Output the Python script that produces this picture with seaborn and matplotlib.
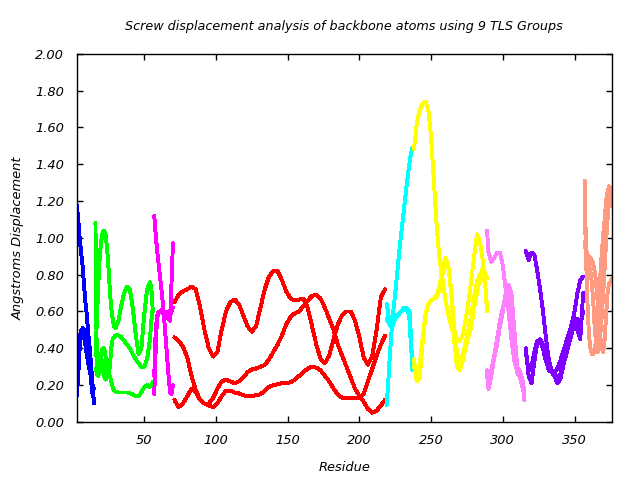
import matplotlib
matplotlib.use("Agg")
import matplotlib.pyplot as plt
import seaborn as sns
import pandas as pd
from matplotlib.ticker import FormatStrFormatter, MultipleLocator

# ---------------- data ----------------
group_names = ["g1", "g2", "g3", "g4", "g5", "g6", "g7", "g8", "g9"]
group_colors = ["#0000ff", "#00ff00", "#ff00ff", "#ff0000", "#00ffff",
                "#ffff00", "#ff80ff", "#8000ff", "#ff9980"]

res_g1 = [3, 4, 5, 6, 7, 8, 9, 10, 11, 12, 13, 14, 15]
g1_a = [1.18, 1.10, 1.00, 0.92, 0.85, 0.75, 0.65, 0.58, 0.48, 0.40, 0.30, 0.20, 0.10]
g1_b = [0.14, 0.25, 0.40, 0.48, 0.51, 0.50, 0.45, 0.40, 0.36, 0.30, 0.22, 0.15, 0.12]
g1_c = [0.35, 0.40, 0.46, 0.50, 0.50, 0.47, 0.42, 0.36, 0.32, 0.28, 0.24, 0.20, 0.18]

res_g2 = [16, 17, 18, 19, 20, 21, 22, 23, 24, 25, 26, 27, 28, 29, 30, 32, 34, 36,
          38, 40, 42, 44, 46, 48, 50, 52, 54, 55, 56]
g2_a = [1.08, 0.26, 0.25, 0.30, 0.36, 0.40, 0.40, 0.36, 0.28, 0.25, 0.30, 0.40,
        0.45, 0.46, 0.47, 0.47, 0.46, 0.44, 0.42, 0.40, 0.37, 0.34, 0.32, 0.30,
        0.30, 0.34, 0.45, 0.55, 0.62]
g2_b = [0.36, 0.55, 0.75, 0.90, 0.98, 1.03, 1.04, 1.02, 0.95, 0.85, 0.72, 0.62,
        0.56, 0.52, 0.51, 0.55, 0.63, 0.70, 0.735, 0.72, 0.62, 0.48, 0.37, 0.40,
        0.58, 0.72, 0.76, 0.72, 0.60]
g2_c = [0.28, 0.30, 0.35, 0.37, 0.35, 0.30, 0.25, 0.23, 0.24, 0.26, 0.25, 0.22,
        0.19, 0.17, 0.165, 0.16, 0.16, 0.16, 0.16, 0.155, 0.15, 0.14, 0.14, 0.16,
        0.19, 0.20, 0.19, 0.20, 0.22]

res_g3 = [57, 58, 59, 60, 61, 62, 63, 64, 65, 66, 67, 68, 69, 70]
g3_a = [1.12, 1.02, 0.93, 0.86, 0.79, 0.72, 0.64, 0.55, 0.45, 0.35, 0.25, 0.16, 0.15, 0.20]
g3_b = [0.15, 0.40, 0.58, 0.60, 0.60, 0.61, 0.60, 0.60, 0.60, 0.59, 0.56, 0.55, 0.75, 0.97]
g3_c = [0.25, 0.50, 0.57, 0.59, 0.60, 0.60, 0.59, 0.58, 0.58, 0.57, 0.56, 0.58, 0.60, 0.62]

res_g4 = [71, 74, 77, 80, 83, 86, 89, 92, 95, 98, 101, 104, 107, 110, 113, 116,
          119, 122, 125, 128, 131, 134, 137, 140, 143, 146, 149, 152, 155, 158,
          161, 164, 167, 170, 173, 176, 179, 182, 185, 188, 191, 194, 197, 200,
          203, 206, 209, 212, 215, 218]
g4_a = [0.65, 0.69, 0.71, 0.72, 0.735, 0.72, 0.62, 0.50, 0.40, 0.355, 0.38, 0.50,
        0.60, 0.65, 0.665, 0.64, 0.58, 0.52, 0.49, 0.52, 0.62, 0.72, 0.79, 0.82,
        0.82, 0.77, 0.71, 0.67, 0.66, 0.665, 0.67, 0.62, 0.52, 0.42, 0.34, 0.32,
        0.36, 0.45, 0.53, 0.58, 0.60, 0.60, 0.55, 0.46, 0.35, 0.31, 0.36, 0.50,
        0.68, 0.72]
g4_b = [0.46, 0.44, 0.41, 0.35, 0.25, 0.17, 0.12, 0.10, 0.10, 0.13, 0.18, 0.22,
        0.23, 0.22, 0.21, 0.22, 0.24, 0.27, 0.285, 0.29, 0.30, 0.31, 0.34, 0.38,
        0.42, 0.47, 0.53, 0.57, 0.59, 0.60, 0.63, 0.66, 0.685, 0.69, 0.67, 0.62,
        0.56, 0.50, 0.42, 0.36, 0.30, 0.24, 0.18, 0.14, 0.11, 0.07, 0.05, 0.06,
        0.09, 0.12]
g4_c = [0.12, 0.08, 0.10, 0.14, 0.18, 0.16, 0.12, 0.10, 0.09, 0.08, 0.10, 0.14,
        0.17, 0.17, 0.16, 0.155, 0.145, 0.14, 0.14, 0.145, 0.15, 0.17, 0.19, 0.20,
        0.205, 0.21, 0.21, 0.215, 0.23, 0.25, 0.27, 0.29, 0.30, 0.295, 0.28, 0.25,
        0.22, 0.18, 0.15, 0.13, 0.13, 0.13, 0.13, 0.13, 0.15, 0.22, 0.29, 0.36,
        0.42, 0.47]

res_g5 = [219, 220, 221, 222, 223, 224, 225, 226, 227, 228, 229, 230, 231, 232,
          233, 234, 235, 236, 237]
g5_a = [0.09, 0.20, 0.33, 0.45, 0.55, 0.63, 0.70, 0.78, 0.86, 0.94, 1.01, 1.08,
        1.15, 1.22, 1.29, 1.35, 1.41, 1.46, 1.49]
g5_b = [0.64, 0.60, 0.53, 0.52, 0.54, 0.55, 0.56, 0.57, 0.58, 0.59, 0.60, 0.60,
        0.61, 0.61, 0.62, 0.61, 0.60, 0.45, 0.28]
g5_c = [0.55, 0.58, 0.56, 0.53, 0.52, 0.54, 0.56, 0.58, 0.58, 0.59, 0.60, 0.61,
        0.62, 0.62, 0.62, 0.60, 0.55, 0.40, 0.33]

res_g6 = [238, 240, 242, 244, 246, 248, 250, 252, 254, 256, 258, 260, 262, 264,
          266, 268, 270, 272, 274, 276, 278, 280, 282, 284, 286, 288, 289]
g6_a = [1.48, 1.62, 1.69, 1.73, 1.74, 1.70, 1.55, 1.30, 1.05, 0.88, 0.77, 0.66,
        0.58, 0.52, 0.47, 0.45, 0.44, 0.47, 0.55, 0.65, 0.77, 0.90, 1.02, 0.98,
        0.88, 0.72, 0.60]
g6_b = [0.34, 0.22, 0.24, 0.42, 0.57, 0.64, 0.66, 0.67, 0.69, 0.74, 0.84, 0.89,
        0.85, 0.70, 0.45, 0.30, 0.28, 0.33, 0.40, 0.46, 0.52, 0.62, 0.70, 0.78,
        0.84, 0.80, 0.78]
g6_c = [0.30, 0.25, 0.30, 0.45, 0.58, 0.64, 0.66, 0.67, 0.68, 0.72, 0.80, 0.86,
        0.84, 0.72, 0.52, 0.38, 0.33, 0.36, 0.43, 0.50, 0.58, 0.68, 0.76, 0.80,
        0.82, 0.72, 0.62]

res_g7 = [289, 290, 292, 294, 296, 298, 300, 302, 304, 306, 308, 310, 312, 314, 315]
g7_a = [1.04, 0.92, 0.87, 0.89, 0.92, 0.92, 0.85, 0.72, 0.60, 0.45, 0.33, 0.28, 0.25, 0.20, 0.12]
g7_b = [0.26, 0.18, 0.25, 0.35, 0.42, 0.52, 0.60, 0.70, 0.745, 0.70, 0.50, 0.30, 0.27, 0.22, 0.16]
g7_c = [0.28, 0.22, 0.28, 0.36, 0.45, 0.55, 0.62, 0.68, 0.70, 0.62, 0.42, 0.27, 0.24, 0.18, 0.14]

res_g8 = [316, 318, 320, 322, 324, 326, 328, 330, 332, 334, 336, 338, 340, 342,
          344, 346, 348, 350, 352, 354, 356]
g8_a = [0.93, 0.88, 0.92, 0.91, 0.82, 0.72, 0.60, 0.46, 0.34, 0.28, 0.27, 0.29,
        0.33, 0.38, 0.43, 0.48, 0.53, 0.60, 0.70, 0.77, 0.79]
g8_b = [0.40, 0.25, 0.21, 0.33, 0.43, 0.45, 0.42, 0.34, 0.28, 0.27, 0.25, 0.21,
        0.23, 0.30, 0.38, 0.44, 0.53, 0.56, 0.50, 0.45, 0.70]
g8_c = [0.38, 0.28, 0.30, 0.38, 0.44, 0.44, 0.40, 0.33, 0.29, 0.28, 0.26, 0.24,
        0.26, 0.31, 0.36, 0.42, 0.48, 0.54, 0.56, 0.52, 0.60]

res_g9 = [357, 358, 359, 360, 361, 362, 363, 364, 365, 366, 367, 368, 369, 370,
          371, 372, 373, 374, 375, 376]
g9_a = [1.31, 0.93, 0.91, 0.90, 0.89, 0.88, 0.86, 0.82, 0.76, 0.66, 0.56, 0.46,
        0.40, 0.38, 0.45, 0.58, 0.70, 0.75, 0.76, 0.78]
g9_b = [1.20, 0.90, 0.65, 0.48, 0.40, 0.37, 0.37, 0.39, 0.44, 0.55, 0.68, 0.80,
        0.92, 1.02, 1.10, 1.20, 1.25, 1.28, 1.27, 1.17]
g9_c = [0.98, 0.92, 0.88, 0.85, 0.82, 0.76, 0.66, 0.52, 0.42, 0.38, 0.40, 0.48,
        0.58, 0.70, 0.84, 0.98, 1.10, 1.20, 1.26, 1.22]

x_ticks = [50, 100, 150, 200, 250, 300, 350]
title = "Screw displacement analysis of backbone atoms using 9 TLS Groups"
xlabel = "Residue"
ylabel = "Angstroms Displacement"

# ---------------- build table ----------------
groups = [
    (res_g1, [g1_a, g1_b, g1_c]),
    (res_g2, [g2_a, g2_b, g2_c]),
    (res_g3, [g3_a, g3_b, g3_c]),
    (res_g4, [g4_a, g4_b, g4_c]),
    (res_g5, [g5_a, g5_b, g5_c]),
    (res_g6, [g6_a, g6_b, g6_c]),
    (res_g7, [g7_a, g7_b, g7_c]),
    (res_g8, [g8_a, g8_b, g8_c]),
    (res_g9, [g9_a, g9_b, g9_c]),
]
rows = []
for gname, (res, curves) in zip(group_names, groups):
    for ci, vals in enumerate(curves):
        for r, v in zip(res, vals):
            rows.append({"residue": r, "disp": v, "group": gname,
                         "curve": f"{gname}_{ci}"})
df = pd.DataFrame(rows)

# ---------------- plot ----------------
sns.set_style("ticks")
plt.rcParams["font.family"] = ["DejaVu Sans"]
plt.rcParams["font.style"] = "italic"
plt.rcParams["text.color"] = "black"
plt.rcParams["axes.labelcolor"] = "black"
plt.rcParams["xtick.color"] = "black"
plt.rcParams["ytick.color"] = "black"

fig = plt.figure(figsize=(6.4, 4.8), dpi=100)
ax = fig.add_axes([0.12, 0.121, 0.836, 0.767])

sns.lineplot(data=df, x="residue", y="disp", hue="group", units="curve",
             estimator=None, sort=False, palette=group_colors,
             hue_order=group_names, legend=False, linewidth=2.1,
             antialiased=False, ax=ax)

ax.set_xlim(3, 376)
ax.set_ylim(0, 2.0)
ax.set_xticks(x_ticks)
ax.yaxis.set_major_locator(MultipleLocator(0.2))
ax.yaxis.set_major_formatter(FormatStrFormatter("%.2f"))
ax.tick_params(direction="in", length=4.5, width=1, top=True, right=True,
               labelsize=9.4, pad=9, colors="black")
for lab in ax.get_xticklabels() + ax.get_yticklabels():
    lab.set_fontstyle("italic")
for sp in ax.spines.values():
    sp.set_visible(True)
    sp.set_linewidth(1)
    sp.set_color("black")

ax.set_xlabel(xlabel, fontsize=9.4, style="italic", labelpad=10, color="black")
ax.set_ylabel(ylabel, fontsize=9.4, style="italic", labelpad=8, color="black")
fig.text(0.537, 0.944, title, fontsize=9.2, style="italic", ha="center",
         va="center", color="black")

fig.savefig("out.png", dpi=100)
